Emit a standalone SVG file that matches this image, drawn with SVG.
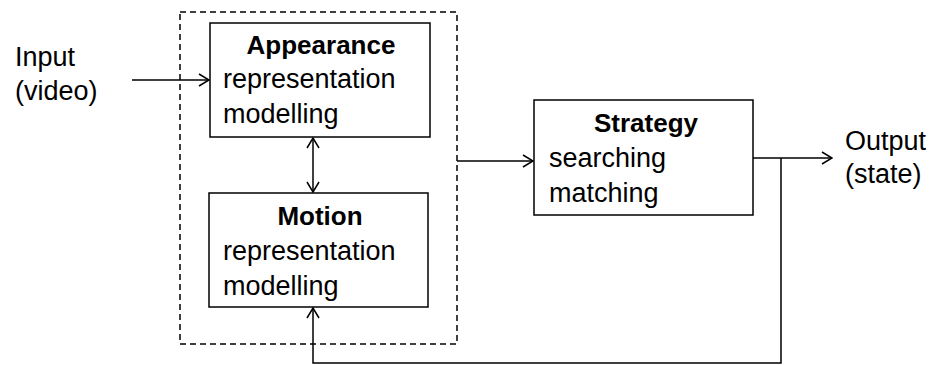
<svg xmlns="http://www.w3.org/2000/svg" width="936" height="365" viewBox="0 0 936 365">
<style>
.box{fill:#fff;stroke:#000;stroke-width:1.5}
.dash{fill:none;stroke:#000;stroke-width:1.5;stroke-dasharray:6 4}
.c{fill:none;stroke:#000;stroke-width:1.5}
text{font-family:"Liberation Sans",Arial,sans-serif;font-size:27px;fill:#000}
.b{font-weight:bold;text-anchor:middle;font-size:26px}
</style>
<defs>
<marker id="ah" viewBox="0 0 12 14" refX="11" refY="7" markerWidth="12" markerHeight="14" markerUnits="userSpaceOnUse" orient="auto-start-reverse">
<path d="M1,1 L11,7 L1,13" fill="none" stroke="#000" stroke-width="1.5"/>
</marker>
</defs>
<rect class="dash" x="180" y="12" width="277" height="332"/>
<g id="input"><text x="15" y="66">Input</text><text x="15" y="100">(video)</text></g>
<g id="appearance">
<rect class="box" x="210" y="23" width="220" height="114"/>
<text class="b" x="321" y="54">Appearance</text>
<text x="223" y="88">representation</text>
<text x="223" y="123">modelling</text>
</g>
<g id="motion">
<rect class="box" x="209" y="193" width="219" height="114"/>
<text class="b" x="320" y="225">Motion</text>
<text x="223" y="260">representation</text>
<text x="223" y="295">modelling</text>
</g>
<g id="strategy">
<rect class="box" x="534" y="100" width="219" height="115"/>
<text class="b" x="646" y="132">Strategy</text>
<text x="549" y="167">searching</text>
<text x="549" y="202">matching</text>
</g>
<g id="output"><text x="845" y="150">Output</text><text x="845" y="183">(state)</text></g>
<g id="connectors">
<line class="c" x1="132" y1="80" x2="209" y2="80" marker-end="url(#ah)"/>
<line class="c" x1="313" y1="138" x2="313" y2="192" marker-start="url(#ah)" marker-end="url(#ah)"/>
<line class="c" x1="457" y1="161" x2="533" y2="161" marker-end="url(#ah)"/>
<line class="c" x1="753" y1="158" x2="832" y2="158" marker-end="url(#ah)"/>
<polyline class="c" points="781,158 781,363 313,363 313,308" marker-end="url(#ah)"/>
</g>
</svg>
